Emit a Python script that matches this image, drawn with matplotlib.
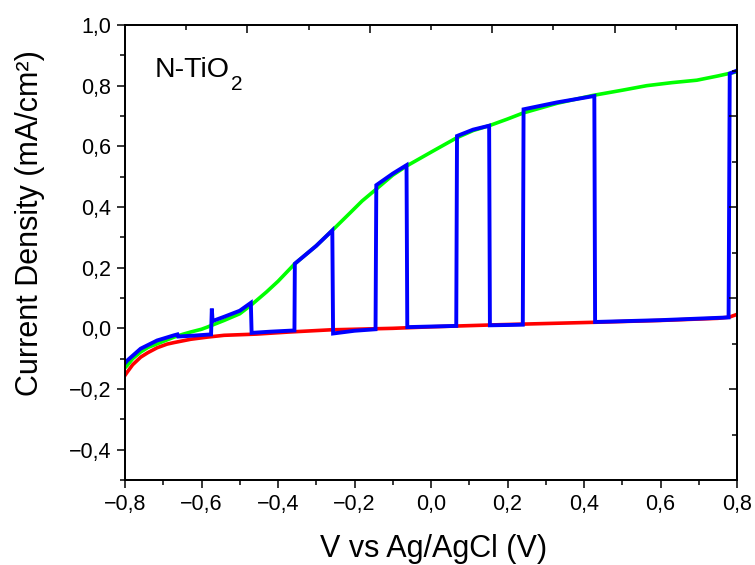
import matplotlib
matplotlib.use("Agg")
import matplotlib.pyplot as plt
from matplotlib.ticker import MultipleLocator, FixedLocator, FuncFormatter, NullFormatter
from matplotlib.transforms import IdentityTransform

plt.rcParams['font.family'] = ['Liberation Sans', 'DejaVu Sans']

# ---- data ----
# dark current (red)
red_v = [-0.80, -0.794, -0.78, -0.759, -0.74, -0.716, -0.69, -0.672, -0.628, -0.585, -0.541,
         -0.456, -0.369, -0.264, -0.10, 0.0, 0.18, 0.43, 0.60, 0.75, 0.78, 0.80]
red_j = [-0.155, -0.144, -0.12, -0.095, -0.08, -0.064, -0.052, -0.047, -0.036, -0.029, -0.023,
         -0.019, -0.012, -0.005, 0.000, 0.005, 0.012, 0.020, 0.026, 0.033, 0.037, 0.046]

# photocurrent under illumination (green)
green_v = [-0.80, -0.794, -0.78, -0.759, -0.74, -0.716, -0.69, -0.672, -0.65, -0.628, -0.60,
           -0.585, -0.541, -0.50, -0.469, -0.43, -0.40, -0.356, -0.30, -0.258, -0.212, -0.18,
           -0.144, -0.10, -0.064, 0.006, 0.067, 0.11, 0.152, 0.20, 0.241, 0.33, 0.424, 0.50,
           0.564, 0.63, 0.695, 0.75, 0.80]
green_j = [-0.13, -0.122, -0.10, -0.078, -0.063, -0.051, -0.038, -0.029, -0.020, -0.012, -0.003,
           0.004, 0.026, 0.048, 0.078, 0.12, 0.155, 0.213, 0.272, 0.323, 0.38, 0.42,
           0.458, 0.505, 0.535, 0.585, 0.628, 0.652, 0.668, 0.69, 0.71, 0.742, 0.768, 0.785,
           0.80, 0.81, 0.818, 0.832, 0.846]

# chopped light (blue)
blue_v = [-0.80, -0.794, -0.759, -0.716, -0.69, -0.672, -0.663, -0.661, -0.62, -0.575, -0.573,
          -0.571, -0.541, -0.50, -0.471, -0.469, -0.42, -0.357, -0.356, -0.30, -0.258, -0.256,
          -0.20, -0.145, -0.143, -0.10, -0.064, -0.062, 0.0, 0.066, 0.068, 0.11, 0.152, 0.154,
          0.20, 0.240, 0.242, 0.33, 0.427, 0.429, 0.60, 0.778, 0.781, 0.80]
blue_j = [-0.115, -0.106, -0.067, -0.040, -0.030, -0.023, -0.020, -0.027, -0.024, -0.020, 0.065,
          0.024, 0.038, 0.058, 0.084, -0.015, -0.011, -0.007, 0.213, 0.272, 0.323, -0.017,
          -0.008, -0.003, 0.472, 0.51, 0.538, 0.004, 0.006, 0.008, 0.634, 0.655, 0.668, 0.010,
          0.011, 0.012, 0.722, 0.745, 0.766, 0.021, 0.027, 0.036, 0.84, 0.85]

sample_label = "N-TiO"
sample_sub = "2"
x_label = "V vs Ag/AgCl (V)"
y_label = "Current Density (mA/cm\u00b2)"

# ---- figure ----
fig = plt.figure(figsize=(7.55, 5.65), dpi=100)
ax = fig.add_axes([125 / 755, 1 - 480 / 565, 612 / 755, 455 / 565])

ax.plot(red_v, red_j, color='#ff0000', lw=2.6, solid_joinstyle='round')
ax.plot(green_v, green_j, color='#00ff00', lw=2.6, solid_joinstyle='round')
ax.plot(blue_v, blue_j, color='#0000ff', lw=2.8, solid_joinstyle='miter')

ax.set_xlim(-0.8, 0.8)
ax.set_ylim(-0.5, 1.0)

fmt = FuncFormatter(lambda v, p: f"{v:.1f}".replace('.', ',').replace('-', '\u2212'))
ax.xaxis.set_major_locator(MultipleLocator(0.2))
ax.xaxis.set_minor_locator(MultipleLocator(0.1))
ax.yaxis.set_major_locator(MultipleLocator(0.2))
ax.yaxis.set_minor_locator(MultipleLocator(0.1))
ax.xaxis.set_major_formatter(fmt)
ax.yaxis.set_major_formatter(fmt)
ax.set_yticks([-0.4, -0.2, 0.0, 0.2, 0.4, 0.6, 0.8, 1.0])
ax.tick_params(which='major', direction='out', length=6, width=1.1, labelsize=15.5,
               top=False, right=False, pad=4)
ax.tick_params(which='minor', direction='out', length=3.5, width=1.1, top=False, right=False)

for s in ax.spines.values():
    s.set_linewidth(1.1)

# top and right axes: independent 10-division scales with inward ticks, no labels
axt = ax.twiny()
axt.set_xlim(0, 10)
axt.xaxis.set_major_locator(FixedLocator([2, 4, 6, 8]))
axt.xaxis.set_minor_locator(FixedLocator([1, 3, 5, 7, 9]))
axt.xaxis.set_major_formatter(NullFormatter())
axt.tick_params(which='major', direction='in', length=6, width=1.1)
axt.tick_params(which='minor', direction='in', length=3.5, width=1.1)
axr = ax.twinx()
axr.set_ylim(0, 10)
axr.yaxis.set_major_locator(FixedLocator([2, 4, 6, 8]))
axr.yaxis.set_minor_locator(FixedLocator([1, 3, 5, 7, 9]))
axr.yaxis.set_major_formatter(NullFormatter())
axr.tick_params(which='major', direction='in', length=6, width=1.1)
axr.tick_params(which='minor', direction='in', length=3.5, width=1.1)
for a in (axt, axr):
    for s in a.spines.values():
        s.set_linewidth(1.1)

ax.set_xlabel(x_label, fontsize=22)
ax.xaxis.set_label_coords(0.505, -0.118)
ax.set_ylabel(y_label, fontsize=22)
ax.yaxis.set_label_coords(-0.13, 0.565)

t = ax.text(-0.7216, 0.828, sample_label, fontsize=20.5, ha='left', va='baseline')
fig.canvas.draw()
bb = t.get_window_extent()
base = ax.transData.transform((-0.7216, 0.828))[1]
fig.text(bb.x1 + 1, base - 13, sample_sub, fontsize=15, ha='left', va='baseline',
         transform=IdentityTransform())

fig.savefig("out.png", dpi=100)
